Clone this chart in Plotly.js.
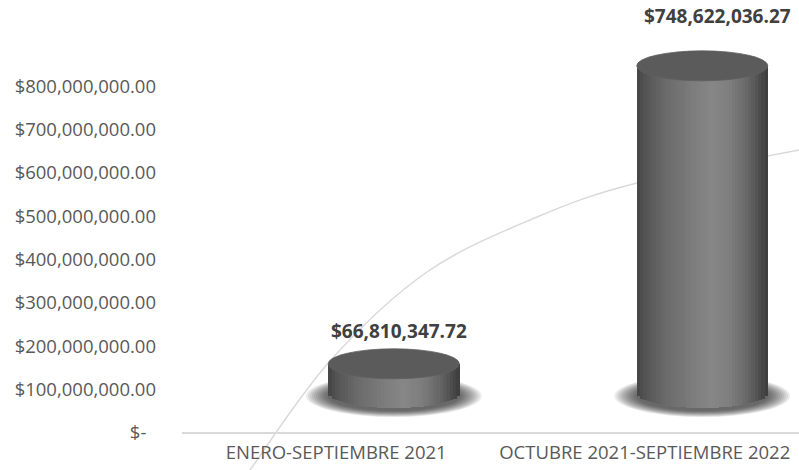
<!DOCTYPE html>
<html>
<head>
<meta charset="utf-8">
<script src="https://cdn.plot.ly/plotly-3.0.1.min.js"></script>
<style>html,body{margin:0;padding:0;background:#fff}#chart{width:799px;height:470px}</style>
</head>
<body>
<div id="chart"></div>
<script>
// ---- data ----
const categories = ["ENERO-SEPTIEMBRE 2021", "OCTUBRE 2021-SEPTIEMBRE 2022"];
const values = [66810347.72, 748622036.27];
const valueLabels = ["$66,810,347.72", "$748,622,036.27"];
const tickValues = [0, 100000000, 200000000, 300000000, 400000000, 500000000, 600000000, 700000000, 800000000];
const tickLabels = ["$-\u00a0\u00a0", "$100,000,000.00", "$200,000,000.00", "$300,000,000.00", "$400,000,000.00",
                    "$500,000,000.00", "$600,000,000.00", "$700,000,000.00", "$800,000,000.00"];

// ---- geometry / style ----
const W = 799, H = 470;
const M = {l: 182, r: 0, t: 43, b: 37};
const plotW = W - M.l - M.r, plotH = H - M.t - M.b;
const y2Range = [-91.5e6, 800.9e6];
const pxPerUnitY2 = plotH / (y2Range[1] - y2Range[0]);
const pxPerCat = plotW / 2;
const barOffset = -0.026, barWidth = 0.425;
const barCenter = barOffset + barWidth / 2;
const ry = 15 / pxPerUnitY2;          // ellipse half-height in y2 units
const rx = barWidth / 2;

const stops = [[0, 0x44], [0.07, 0x55], [0.22, 0x6a], [0.45, 0x7e], [0.58, 0x87], [0.72, 0x7c], [0.85, 0x66], [0.95, 0x4a], [1, 0x3c]];
function grey(t) {
  for (let k = 0; k < stops.length - 1; k++) {
    const a = stops[k], b = stops[k + 1];
    if (t >= a[0] && t <= b[0]) {
      const v = Math.round(a[1] + (b[1] - a[1]) * (t - a[0]) / (b[0] - a[0]));
      return `rgb(${v},${v},${v})`;
    }
  }
  return "rgb(60,60,60)";
}

const traces = [];
// anchor trace for the labelled value axis (draws nothing)
traces.push({type: "scatter", mode: "markers", x: categories, y: [null, null], xaxis: "x", yaxis: "y",
  hoverinfo: "skip", showlegend: false});

const N = 40;
const sw = barWidth / N;
for (let j = 0; j < N; j++) {
  const t = (j + 0.5) / N;
  const u = 2 * t - 1;
  const base = -ry * Math.sqrt(Math.max(0, 1 - u * u));
  traces.push({
    type: "bar",
    x: categories,
    y: values.map(v => v - base),
    base: categories.map(() => base),
    xaxis: "x", yaxis: "y2",
    offset: barOffset + j * sw,
    width: sw * 1.15,
    marker: {color: grey(t), line: {width: 0}},
    hoverinfo: "skip",
    showlegend: false
  });
}

const shapes = [];
// soft shadows
const SL = 12;
categories.forEach((c, i) => {
  for (let k = 0; k < SL; k++) {
    const f = k / (SL - 1);
    const sx = 88 - f * 22, sy = 21 - f * 6;
    const rxu = sx / pxPerCat, ryu = sy / pxPerUnitY2, cy = -3 / pxPerUnitY2;
    shapes.push({type: "circle", xref: "x", yref: "y2", layer: "below",
      x0: i + barCenter - rxu, x1: i + barCenter + rxu, y0: cy - ryu, y1: cy + ryu,
      fillcolor: "rgba(20,20,20,0.075)", line: {width: 0}});
  }
});
// top faces
values.forEach((v, i) => {
  shapes.push({type: "circle", xref: "x", yref: "y2", layer: "above",
    x0: i + barCenter - rx, x1: i + barCenter + rx, y0: v - ry, y1: v + ry,
    fillcolor: "#5b5b5b", line: {color: "#606060", width: 0.8}});
});
// decorative arc (pixel points -> paper)
const arcPx = [[235, 492], [250, 470], [330, 361], [427, 272], [537, 217], [637, 183], [799, 150], [840, 145]];
const toPaper = p => [(p[0] - M.l) / plotW, (H - M.b - p[1]) / plotH];
const pp = arcPx.map(toPaper);
let path = `M${pp[1][0]},${pp[1][1]}`;
for (let i = 1; i < pp.length - 2; i++) {
  const p0 = pp[i - 1], p1 = pp[i], p2 = pp[i + 1], p3 = pp[i + 2];
  const c1 = [p1[0] + (p2[0] - p0[0]) / 6, p1[1] + (p2[1] - p0[1]) / 6];
  const c2 = [p2[0] - (p3[0] - p1[0]) / 6, p2[1] - (p3[1] - p1[1]) / 6];
  path += ` C${c1[0]},${c1[1]} ${c2[0]},${c2[1]} ${p2[0]},${p2[1]}`;
}
shapes.push({type: "path", xref: "paper", yref: "paper", layer: "below", path: path,
  line: {color: "#d9d9d9", width: 1.5}});

const labelShiftY = [33, 50], labelShiftX = [5, 15];
const annotations = values.map((v, i) => ({
  xref: "x", yref: "y2", x: i + barCenter, y: v, yanchor: "middle", xanchor: "center",
  yshift: labelShiftY[i], xshift: labelShiftX[i], showarrow: false, text: "<b>" + valueLabels[i] + "</b>",
  font: {family: "Open Sans", size: 19, color: "#404040"}
}));

const font = {family: "Open Sans", size: 18.5, color: "#595959"};
const layout = {
  width: W, height: H, margin: M,
  paper_bgcolor: "#fff", plot_bgcolor: "rgba(0,0,0,0)",
  barmode: "overlay", bargap: 0,
  showlegend: false,
  xaxis: {type: "category", range: [-0.5, 1.5], showgrid: false, zeroline: false, showline: false,
    ticks: "", tickfont: font, ticklabelstandoff: 6, fixedrange: true},
  yaxis: {range: [0, 900e6], tickvals: tickValues, ticktext: tickLabels, showgrid: false,
    zeroline: true, zerolinecolor: "#d9d9d9", zerolinewidth: 2, showline: false, ticks: "",
    tickfont: font, ticklabelstandoff: 25, fixedrange: true},
  yaxis2: {overlaying: "y", range: y2Range, visible: false, fixedrange: true},
  shapes: shapes,
  annotations: annotations,
  hovermode: false
};
Plotly.newPlot("chart", traces, layout, {staticPlot: true, displayModeBar: false});
</script>
</body>
</html>
